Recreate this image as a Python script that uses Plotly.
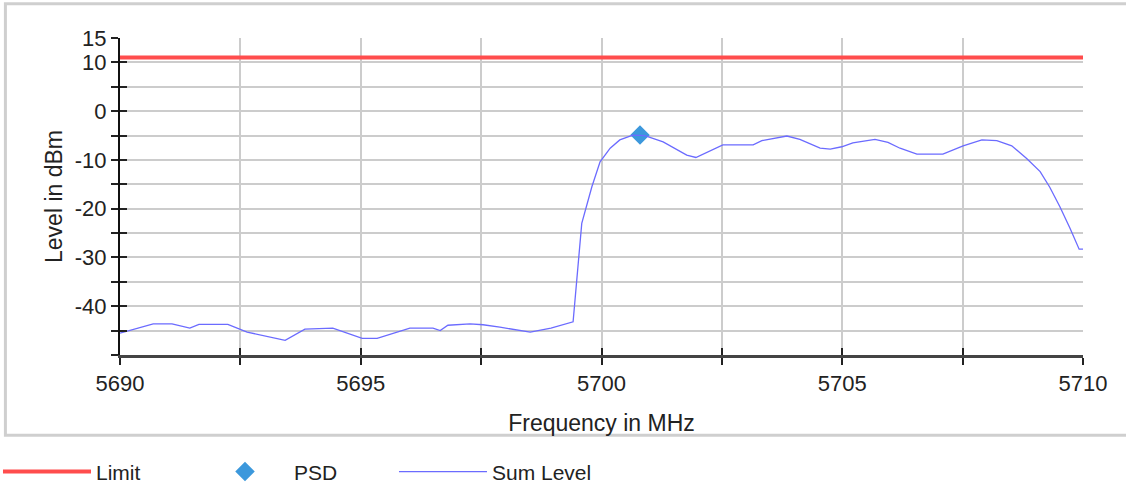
import plotly.graph_objects as go

# Sum level trace
freq = [5690.00, 5690.69, 5691.08, 5691.45, 5691.64, 5692.24, 5692.64, 5693.43,
        5693.84, 5694.42, 5695.03, 5695.34, 5696.02, 5696.50, 5696.65, 5696.81,
        5697.27, 5697.54, 5697.89, 5698.52, 5698.95, 5699.37, 5699.41, 5699.59,
        5699.80, 5699.97, 5700.18, 5700.38, 5700.65, 5700.90, 5701.28, 5701.77,
        5701.96, 5702.52, 5703.15, 5703.33, 5703.85, 5704.12, 5704.54, 5704.75,
        5704.99, 5705.22, 5705.68, 5705.95, 5706.20, 5706.55, 5707.09, 5707.51,
        5707.90, 5708.21, 5708.52, 5708.83, 5709.11, 5709.31, 5709.52, 5709.73,
        5709.92, 5710.00]
level = [-45.5, -43.6, -43.6, -44.5, -43.7, -43.7, -45.3, -47.0,
         -44.7, -44.5, -46.6, -46.6, -44.5, -44.5, -45.0, -43.9,
         -43.6, -43.8, -44.3, -45.3, -44.5, -43.3, -43.2, -23.0,
         -15.5, -10.4, -7.6, -5.9, -4.9, -5.0, -6.3, -9.0,
         -9.5, -6.9, -6.9, -6.05, -5.1, -5.8, -7.6, -7.8,
         -7.3, -6.5, -5.8, -6.4, -7.6, -8.8, -8.8, -7.1,
         -5.9, -6.05, -7.1, -9.7, -12.4, -15.6, -19.6, -24.0,
         -28.3, -28.3]

limit_freq = [5690, 5710]
limit_level = [11, 11]

psd_freq = [5700.8]
psd_level = [-4.9]

x_ticks = [5690, 5692.5, 5695, 5697.5, 5700, 5702.5, 5705, 5707.5, 5710]
x_labels = ['5690', '', '5695', '', '5700', '', '5705', '', '5710']
y_ticks = [-50, -45, -40, -35, -30, -25, -20, -15, -10, -5, 0, 5, 10, 15]
y_labels = ['', '', '-40', '', '-30', '', '-20', '', '-10', '', '0', '', '10', '15']

font = 'Arial, Liberation Sans, sans-serif'

fig = go.Figure()
fig.add_trace(go.Scatter(
    x=limit_freq, y=limit_level, mode='lines', name='Limit',
    line=dict(color='#ff4d4d', width=4)
))
fig.add_trace(go.Scatter(
    x=psd_freq, y=psd_level, mode='markers', name='PSD',
    marker=dict(symbol='diamond', size=15, color='#3c98dc')
))
fig.add_trace(go.Scatter(
    x=freq, y=level, mode='lines', name='Sum Level',
    line=dict(color='#6b6bff', width=1.3)
))
# empty trace so the overlay axes (inner half of the crossed ticks) get drawn
fig.add_trace(go.Scatter(x=[None], y=[None], xaxis='x2', yaxis='y2',
                         showlegend=False, hoverinfo='skip'))

fig.update_layout(
    width=1126, height=486,
    margin=dict(l=120, r=43, t=38, b=131, autoexpand=False),
    paper_bgcolor='white', plot_bgcolor='white',
    font=dict(family=font, size=21, color='#222'),
    showlegend=True,
    legend=dict(
        orientation='h', x=-0.1267, xanchor='left', y=-0.369, yanchor='middle',
        font=dict(size=21, color='#222'), entrywidth=95, itemwidth=88,
        bgcolor='rgba(0,0,0,0)'
    ),
    xaxis=dict(
        range=[5690, 5710], tickvals=x_ticks, ticktext=x_labels,
        showgrid=True, gridcolor='#cccccc', gridwidth=2,
        showline=True, linecolor='#444', linewidth=2.5,
        ticks='outside', ticklen=7, tickwidth=1.5, tickcolor='#222',
        zeroline=False, automargin=False,
        title=dict(text='Frequency in MHz', standoff=20, font=dict(size=23)),
        tickfont=dict(size=22)
    ),
    yaxis=dict(
        range=[-50, 15], tickvals=y_ticks, ticktext=y_labels,
        showgrid=True, gridcolor='#cccccc', gridwidth=2,
        showline=True, linecolor='#111', linewidth=2,
        ticks='outside', ticklen=7, tickwidth=1.5, tickcolor='#222',
        zeroline=False, automargin=False,
        title=dict(text='Level in dBm', standoff=6, font=dict(size=23)),
        tickfont=dict(size=22)
    ),
    xaxis2=dict(
        range=[5690, 5710], overlaying='x', anchor='y2', tickvals=x_ticks,
        showticklabels=False, showgrid=False, zeroline=False,
        ticks='inside', ticklen=7, tickwidth=1.5, tickcolor='#222'
    ),
    yaxis2=dict(
        range=[-50, 15], overlaying='y', anchor='x2', tickvals=y_ticks,
        showticklabels=False, showgrid=False, zeroline=False,
        ticks='inside', ticklen=7, tickwidth=1.5, tickcolor='#222'
    ),
    shapes=[dict(
        type='rect', xref='paper', yref='paper',
        x0=-0.119, x1=1.12, y0=-0.253, y1=1.108,
        line=dict(color='#cfcfcf', width=3), layer='below'
    )]
)

# drop the browser's default 8px body margin so the figure sits at the page corner
fig.write_html('out.html', config={'displayModeBar': False},
               post_script="document.body.style.margin='0';")
